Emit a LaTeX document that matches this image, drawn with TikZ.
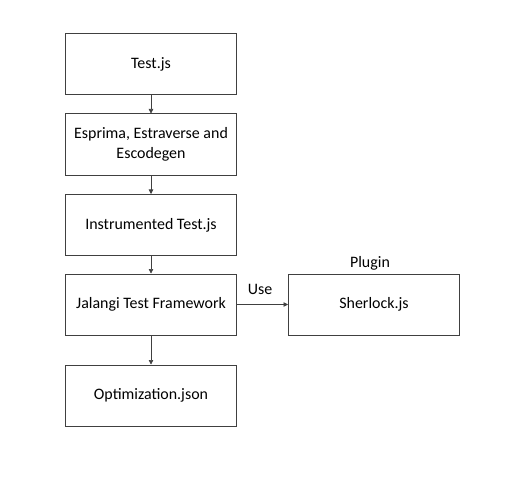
\documentclass[tikz,border=0pt]{standalone}
\usepackage{fontspec}
\setmainfont{Carlito}
\usetikzlibrary{arrows.meta}
\definecolor{edge}{HTML}{404040}
\begin{document}
\begin{tikzpicture}[x=1bp,y=-1bp,
  box/.style={draw=edge,line width=1bp,minimum width=171bp,minimum height=61bp,inner sep=2bp,align=center,font=\fontsize{16}{20}\selectfont},
  lbl/.style={font=\fontsize{16}{20}\selectfont,inner sep=1bp},
  conn/.style={draw=edge,line width=0.6bp,-{Triangle[length=4.5bp,width=4.5bp]}}]
\useasboundingbox[fill=white] (0,0) rectangle (506,490);
\node[box] (t) at (151,64.5) {Test.js};
\node[box] (e) at (151,144.5) {Esprima, Estraverse and\\Escodegen};
\node[box] (i) at (151,225) {Instrumented Test.js};
\node[box] (j) at (151,304.5) {Jalangi Test Framework};
\node[box] (o) at (151,395.5) {Optimization.json};
\node[box] (s) at (374,304.5) {Sherlock.js};
\node[lbl] (p) at (370,263) {Plugin};
\node[lbl] (u) at (260,289) {Use};
\draw[conn] (t) -- (e);
\draw[conn] (e) -- (i);
\draw[conn] (i) -- (j);
\draw[conn] (j) -- (o);
\draw[conn] (j) -- (s);
\end{tikzpicture}
\end{document}
